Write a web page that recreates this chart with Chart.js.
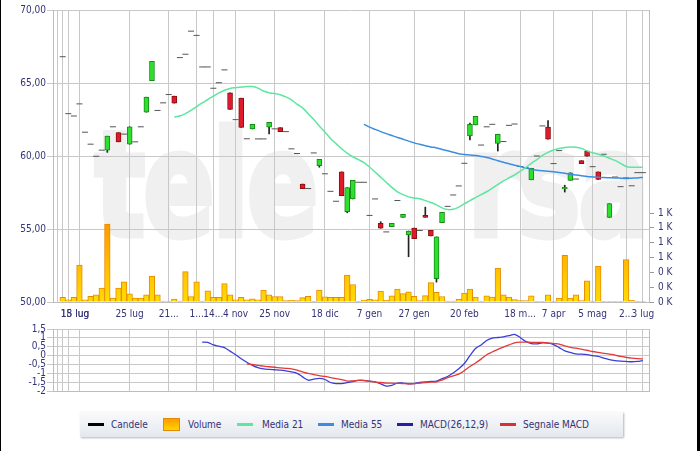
<!DOCTYPE html>
<html>
<head>
<meta charset="utf-8">
<script src="https://cdn.jsdelivr.net/npm/chart.js@4.4.1/dist/chart.umd.min.js"></script>
<style>
  html, body { margin: 0; padding: 0; background: #fff; }
  body { position: relative; width: 700px; height: 451px; overflow: hidden; font-family: "DejaVu Sans Condensed", "DejaVu Sans", sans-serif; }
  .wm { position: absolute; top: 112px; font-family: "DejaVu Sans", sans-serif; font-weight: bold; font-size: 145px; line-height: 145px; color: #f0f0f0; -webkit-text-stroke: 7px #f0f0f0; white-space: nowrap; transform-origin: 0 0; transform: scaleX(0.72); letter-spacing: -2px; }
  canvas { position: absolute; left: 0; }
  #price { top: 0; }
  #macd { top: 322px; }
  #legend { position: absolute; left: 80px; top: 412px; width: 543px; height: 25px; background: linear-gradient(#f9fafc, #e4e8ee); box-shadow: 1px 1px 2px rgba(0,0,0,.3); }
  .sw { position: absolute; top: 11px; width: 16px; height: 3px; }
  .bx { position: absolute; top: 6px; width: 17px; height: 13px; box-sizing: border-box; border: 1px solid #e58a00; background: linear-gradient(#ff9c00, #ffd400); }
  .tx { position: absolute; top: 0; line-height: 25px; font-size: 10px; color: #333377; white-space: nowrap; }
  .edge { position: absolute; top: 0; height: 451px; background: #000; }
</style>
</head>
<body>
<div class="wm" style="left:95px">tele</div>
<div class="wm" style="left:468px">rsa</div>
<canvas id="price" width="700" height="322"></canvas>
<canvas id="macd" width="700" height="76"></canvas>
<div id="legend">
  <span class="sw" style="left:8px;background:#000"></span><span class="tx" style="left:31px">Candele</span>
  <span class="bx" style="left:83px"></span><span class="tx" style="left:108px">Volume</span>
  <span class="sw" style="left:157px;background:#5de6a0"></span><span class="tx" style="left:182px">Media 21</span>
  <span class="sw" style="left:238px;background:#3b8de0"></span><span class="tx" style="left:261px">Media 55</span>
  <span class="sw" style="left:317px;background:#1f1fa8"></span><span class="tx" style="left:340px">MACD(26,12,9)</span>
  <span class="sw" style="left:420px;background:#d93030"></span><span class="tx" style="left:443px">Segnale MACD</span>
</div>
<div class="edge" style="left:0;width:1px"></div>
<div class="edge" style="right:0;width:3px"></div>
<script>
// prezzi giornalieri (apertura, massimo, minimo, chiusura)
const open = [66.8,62.9,62.74,63.57,61.63,60.81,59.98,60.4,60.4,62.0,
  61.6,61.5,60.81,60.97,62.0,63.0,65.16,63.12,63.64,64.21,
  64.1,66.74,66.97,68.55,68.26,66.1,66.1,64.64,65.02,65.9,
  64.32,62.49,63.96,61.18,61.85,61.17,61.17,61.97,61.86,61.94,
  61.67,60.49,60.17,58.08,57.77,60.21,59.34,58.78,57.58,56.9,
  58.91,56.18,57.06,58.2,58.2,55.93,57.06,55.38,54.8,55.16,
  56.95,55.8,54.6,55.07,54.9,55.93,54.91,51.6,55.43,56.55,
  57.33,57.95,59.5,61.38,62.13,60.75,62.0,62.17,60.86,60.99,
  62.1,62.19,59.28,59.2,58.37,60.0,62.06,61.98,59.48,60.37,
  57.74,58.33,58.42,59.68,60.34,59.27,58.91,60.12,55.79,58.56,
  57.9,58.5,57.96,58.86,58.86];
const high = [66.8,62.9,62.74,63.57,61.63,60.81,59.98,60.4,61.36,62.0,
  61.6,61.5,62.0,60.97,62.0,64.03,66.49,63.12,63.64,64.21,
  64.1,66.74,66.97,68.55,68.26,66.1,66.1,64.64,65.02,65.9,
  64.32,62.49,63.96,61.18,62.17,61.17,61.17,62.31,61.86,61.94,
  61.67,60.49,60.17,58.08,57.77,60.21,59.77,58.78,57.58,56.9,
  58.91,57.83,58.33,58.2,58.2,55.93,57.06,55.5,54.8,55.38,
  56.95,56.0,54.86,55.07,54.9,56.5,54.91,54.46,56.15,56.55,
  57.33,57.95,59.5,62.26,62.71,60.75,62.0,62.17,61.49,60.99,
  62.1,62.19,59.28,59.2,59.16,60.0,62.06,62.42,59.48,60.37,
  58.0,58.85,58.42,59.68,60.34,59.27,58.91,60.12,56.74,58.56,
  57.9,58.5,57.96,58.86,58.86];
const low = [66.8,62.9,62.74,63.57,61.63,60.81,59.98,60.4,60.25,62.0,
  60.97,61.5,60.81,60.97,62.0,63.0,65.16,63.12,63.64,64.21,
  63.62,66.74,66.97,68.55,68.26,66.1,66.1,64.64,65.02,65.9,
  63.19,62.49,61.95,61.18,61.85,61.17,61.17,61.51,61.86,61.67,
  61.67,60.49,60.17,57.77,57.77,60.21,59.23,58.78,57.58,56.9,
  57.28,56.11,57.06,58.2,58.2,55.93,57.06,55.05,54.8,55.16,
  56.95,55.8,53.1,54.34,54.9,55.8,54.52,51.36,55.43,56.55,
  57.33,57.95,59.5,61.1,62.13,60.75,62.0,62.17,60.34,60.99,
  62.1,62.19,59.28,59.2,58.37,60.0,62.06,61.15,59.48,60.37,
  57.53,58.33,58.42,59.48,59.98,59.27,58.39,60.12,55.79,58.56,
  57.9,58.5,57.96,58.86,58.86];
const close = [66.8,62.9,62.74,63.57,61.63,60.81,59.98,60.4,61.36,62.0,
  60.97,61.5,62.0,60.97,62.0,64.03,66.49,63.12,63.64,64.21,
  63.62,66.74,66.97,68.55,68.26,66.1,66.1,64.64,65.02,65.9,
  63.19,62.49,61.95,61.18,62.17,61.17,61.17,62.31,61.86,61.67,
  61.67,60.49,60.17,57.77,57.77,60.21,59.77,58.78,57.58,56.9,
  57.28,57.83,58.33,58.2,58.2,55.93,57.06,55.05,54.8,55.38,
  56.95,56.0,54.86,54.34,54.9,55.8,54.52,54.46,56.15,56.55,
  57.33,57.95,59.5,62.17,62.71,60.75,62.0,62.17,61.49,60.99,
  62.1,62.19,59.28,59.2,59.16,60.0,62.06,61.15,59.48,60.37,
  57.86,58.85,58.42,59.48,59.98,59.27,58.39,60.12,56.74,58.56,
  57.9,58.5,57.96,58.86,58.86];
const volume = [62,30,62,498,30,76,98,187,1053,53,
  187,272,111,53,53,98,351,98,12,12,
  38,12,409,74,273,12,150,62,62,250,
  98,30,62,30,44,30,162,98,74,72,
  18,27,18,58,76,10,162,71,62,62,
  62,362,236,10,27,36,30,147,27,84,
  175,115,138,78,20,86,262,129,74,12,
  12,40,120,173,67,10,84,67,458,98,
  67,31,20,20,84,10,10,98,10,53,
  631,53,98,20,287,12,484,10,10,10,
  10,573,22,10,10];
const ma21 = [null,null,null,null,null,null,null,null,null,null,
  null,null,null,null,null,null,null,null,null,null,
  62.67,62.74,62.9,63.12,63.39,63.64,63.87,64.1,64.32,64.5,
  64.63,64.68,64.72,64.76,64.76,64.65,64.45,64.33,64.28,64.2,
  64.05,63.85,63.55,63.3,62.9,62.5,62.05,61.65,61.2,60.85,
  60.5,60.2,59.95,59.75,59.55,59.25,58.9,58.55,58.2,57.85,
  57.55,57.35,57.2,57.13,57.07,56.95,56.82,56.65,56.45,56.33,
  56.35,56.5,56.72,56.95,57.15,57.35,57.55,57.8,58.05,58.3,
  58.5,58.7,58.95,59.2,59.5,59.75,60.05,60.25,60.41,60.52,
  60.59,60.62,60.6,60.52,60.35,60.22,60.12,60.0,59.85,59.7,
  59.5,59.28,59.23,59.23,59.23];
const ma55 = [null,null,null,null,null,null,null,null,null,null,
  null,null,null,null,null,null,null,null,null,null,
  null,null,null,null,null,null,null,null,null,null,
  null,null,null,null,null,null,null,null,null,null,
  null,null,null,null,null,null,null,null,null,null,
  null,null,null,null,62.17,61.98,61.82,61.67,61.53,61.4,
  61.27,61.15,61.02,60.9,60.8,60.7,60.62,60.55,60.45,60.36,
  60.25,60.16,60.1,60.07,60.03,59.97,59.9,59.8,59.68,59.57,
  59.47,59.37,59.28,59.18,59.09,59.03,58.99,58.96,58.92,58.87,
  58.82,58.75,58.7,58.65,58.6,58.57,58.54,58.52,58.51,58.5,
  58.48,58.46,58.48,58.5,58.53];
const macd = [null,null,null,null,null,null,null,null,null,null,
  null,null,null,null,null,null,null,null,null,null,
  null,null,null,null,null,0.76,0.74,0.6,0.53,0.45,
  0.25,0.05,-0.18,-0.38,-0.55,-0.68,-0.75,-0.78,-0.8,-0.82,
  -0.86,-0.92,-1.0,-1.2,-1.39,-1.33,-1.29,-1.35,-1.52,-1.58,
  -1.58,-1.53,-1.47,-1.4,-1.4,-1.45,-1.48,-1.6,-1.72,-1.68,
  -1.55,-1.55,-1.6,-1.58,-1.52,-1.48,-1.46,-1.44,-1.3,-1.18,
  -0.98,-0.75,-0.45,0.0,0.4,0.6,0.85,0.98,1.02,1.06,
  1.12,1.2,1.02,0.8,0.68,0.66,0.72,0.7,0.62,0.45,
  0.27,0.18,0.1,0.08,0.05,0.0,-0.05,-0.15,-0.23,-0.28,
  -0.31,-0.33,-0.35,-0.33,-0.28];
const signal = [null,null,null,null,null,null,null,null,null,null,
  null,null,null,null,null,null,null,null,null,null,
  null,null,null,null,null,null,null,null,null,null,
  null,null,null,-0.47,-0.5,-0.55,-0.6,-0.63,-0.66,-0.69,
  -0.72,-0.75,-0.82,-0.92,-1.01,-1.07,-1.13,-1.18,-1.24,-1.3,
  -1.36,-1.44,-1.43,-1.4,-1.41,-1.45,-1.5,-1.52,-1.55,-1.56,
  -1.57,-1.58,-1.6,-1.58,-1.55,-1.53,-1.5,-1.48,-1.38,-1.25,
  -1.15,-1.05,-0.85,-0.62,-0.42,-0.2,0.05,0.2,0.35,0.48,
  0.6,0.72,0.76,0.76,0.75,0.74,0.74,0.72,0.68,0.65,
  0.55,0.46,0.42,0.36,0.3,0.23,0.18,0.13,0.08,0.03,
  -0.05,-0.1,-0.14,-0.17,-0.19];

// asse delle date: linee verticali e etichette
const gridPos = [-1,0,1,3,12,19,24,27,31,38,47,55,63,72,82,88,95,101,104];
const labelPos = [2.2,2.2001,12,19,24,27,31,38,47,55,63,72,82,88,95,101,104];
const dateLabels = ['15 lug','18 lug','25 lug','21...','1...','14...','4 nov','25 nov','18 dic','7 gen','27 gen','20 feb','18 m...','7 apr','5 mag','2...','3 lug'];
const priceTicks = [50,55,60,65,70];
const volTicks = [0,200,400,600,800,1000,1200];
const macdTicks = [-2,-1.5,-1,-0.5,0,0.5,1,1.5];

const X_MIN = -1.74, X_MAX = 105.1;
const TXT = '#333377';
const GRID = '#c8c8c8';
const FONT = { family: '"DejaVu Sans Condensed", "DejaVu Sans", sans-serif', size: 10 };

const allTicks = [...new Set([...gridPos, ...labelPos])].sort((a, b) => a - b);
function tickText(v) {
  const k = labelPos.indexOf(v);
  return k >= 0 ? dateLabels[k] : '';
}
function gridColor(ctx) {
  return ctx.tick && gridPos.includes(ctx.tick.value) ? GRID : 'rgba(0,0,0,0)';
}

const isCandle = i => open[i] !== close[i] || high[i] !== low[i];
const pts = arr => arr.map((v, i) => ({ x: i, y: v }));
const candleIdx = open.map((o, i) => i).filter(isCandle);
const dashIdx = open.map((o, i) => i).filter(i => !isCandle(i));

function volFill(ctx) {
  const ch = ctx.chart;
  if (!ch.chartArea) return '#ffb000';
  const ys = ch.scales.yv;
  const g = ch.ctx.createLinearGradient(0, ys.getPixelForValue(1100), 0, ch.chartArea.bottom);
  g.addColorStop(0, '#ff9600');
  g.addColorStop(1, '#ffdc00');
  return g;
}

new Chart(document.getElementById('price'), {
  data: {
    datasets: [
      {
        type: 'line', label: 'Media 21', data: pts(ma21), yAxisID: 'y',
        borderColor: '#5de6a0', borderWidth: 1.5, pointRadius: 0, tension: 0.3, order: 0
      },
      {
        type: 'line', label: 'Media 55', data: pts(ma55), yAxisID: 'y',
        borderColor: '#3b8de0', borderWidth: 1.5, pointRadius: 0, tension: 0.3, order: 0
      },
      {
        type: 'line', label: 'Candele', data: dashIdx.map(i => ({ x: i, y: close[i] })), yAxisID: 'y',
        showLine: false, pointStyle: 'line', pointRadius: 3, pointBorderColor: '#555', pointBorderWidth: 1, order: 1
      },
      {
        type: 'bar', label: 'Candele', data: candleIdx.map(i => ({ x: i, y: [open[i], close[i]] })), yAxisID: 'y',
        grouped: false, barThickness: 5, borderWidth: 1, borderSkipped: false,
        backgroundColor: c => c.raw && c.raw.y[1] >= c.raw.y[0] ? '#2ee02e' : '#e0192b',
        borderColor: c => c.raw && c.raw.y[1] >= c.raw.y[0] ? '#178a17' : '#8a1010',
        order: 2
      },
      {
        type: 'bar', label: 'wick', data: candleIdx.map(i => ({ x: i, y: [low[i], high[i]] })), yAxisID: 'y',
        grouped: false, barThickness: 1, backgroundColor: '#222', order: 3
      },
      {
        type: 'bar', label: 'Volume', data: pts(volume), yAxisID: 'yv',
        grouped: false, barThickness: 5.6, borderWidth: 1, borderColor: '#e88a00',
        backgroundColor: volFill, order: 5
      }
    ]
  },
  options: {
    responsive: false, animation: false, devicePixelRatio: 1,
    layout: { padding: { top: 7, left: 0, right: 0, bottom: 0 } },
    plugins: { legend: { display: false }, tooltip: { enabled: false } },
    scales: {
      x: {
        type: 'linear', min: X_MIN, max: X_MAX, offset: false,
        afterBuildTicks: s => { s.ticks = allTicks.map(v => ({ value: v })); },
        ticks: { autoSkip: false, maxRotation: 0, minRotation: 0, padding: 6, color: TXT, font: FONT,
          callback: v => tickText(v) },
        grid: { color: gridColor, tickLength: 0, offset: false },
        border: { color: '#bdbdbd' },
        afterFit: s => { s.height = 20; }
      },
      y: {
        position: 'left', min: 50, max: 70,
        afterBuildTicks: s => { s.ticks = priceTicks.map(v => ({ value: v })); },
        ticks: { autoSkip: false, color: TXT, font: FONT, padding: 1, callback: v => v.toFixed(2).replace('.', ',') },
        grid: { color: GRID, tickLength: 6 },
        border: { color: '#bdbdbd' },
        afterFit: s => { s.width = 53; }
      },
      yv: {
        position: 'right', min: 0, max: 3940,
        afterBuildTicks: s => { s.ticks = volTicks.map(v => ({ value: v })); },
        ticks: { autoSkip: false, color: TXT, font: FONT, padding: 4, callback: v => Math.round(v / 1000) + ' K' },
        grid: { drawOnChartArea: false, tickLength: 5, color: '#999' },
        border: { color: '#bdbdbd' },
        afterFit: s => { s.width = 51; }
      }
    }
  }
});

new Chart(document.getElementById('macd'), {
  type: 'line',
  data: {
    datasets: [
      { label: 'MACD(26,12,9)', data: pts(macd), borderColor: '#3c3cd8', borderWidth: 1.3, pointRadius: 0, tension: 0.3, order: 1 },
      { label: 'Segnale MACD', data: pts(signal), borderColor: '#e23a3a', borderWidth: 1.3, pointRadius: 0, tension: 0.3, order: 0 }
    ]
  },
  options: {
    responsive: false, animation: false, devicePixelRatio: 1,
    layout: { padding: { top: 6, left: 0, right: 0, bottom: 0 } },
    plugins: { legend: { display: false }, tooltip: { enabled: false } },
    scales: {
      x: {
        type: 'linear', min: X_MIN, max: X_MAX, offset: false,
        afterBuildTicks: s => { s.ticks = gridPos.map(v => ({ value: v })); },
        ticks: { display: false },
        grid: { color: GRID, tickLength: 0, offset: false },
        border: { color: '#bdbdbd' },
        afterFit: s => { s.height = 6; }
      },
      y: {
        position: 'left', min: -2, max: 1.5,
        afterBuildTicks: s => { s.ticks = macdTicks.map(v => ({ value: v })); },
        ticks: { autoSkip: false, color: TXT, font: FONT, padding: 1, callback: v => String(v).replace('.', ',') },
        grid: { color: GRID, tickLength: 6 },
        border: { color: '#bdbdbd' },
        afterFit: s => { s.width = 53; }
      },
      yr: {
        position: 'right', min: 0, max: 1,
        ticks: { display: false },
        grid: { drawOnChartArea: false, tickLength: 0 },
        border: { color: '#bdbdbd' },
        afterFit: s => { s.width = 51; }
      }
    }
  }
});
</script>
</body>
</html>
